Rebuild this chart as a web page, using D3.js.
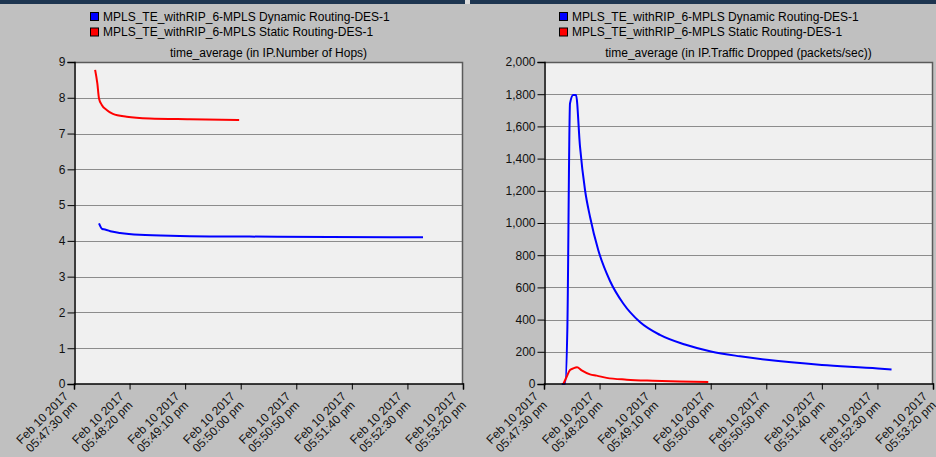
<!DOCTYPE html>
<html>
<head>
<meta charset="utf-8">
<script src="https://cdn.jsdelivr.net/npm/d3@7/dist/d3.min.js"></script>
<style>
  html, body { margin: 0; padding: 0; background: #c0c0c0; }
  svg { display: block; font-family: "Liberation Sans", Arial, sans-serif; }
</style>
</head>
<body>
<svg id="chart" width="936" height="457"></svg>
<script>
// ---- data (time = seconds after Feb 10 2017 05:47:30 pm) ----
const seriesNames = ["MPLS_TE_withRIP_6-MPLS Dynamic Routing-DES-1", "MPLS_TE_withRIP_6-MPLS Static Routing-DES-1"];
const seriesColors = ["#0000ff", "#ff0000"];

const hopsDynamic = [[22.5,4.49],[25.5,4.33],[27.9,4.32],[33.9,4.26],[41.4,4.22],[59,4.17],[95,4.14],[158,4.12],[230,4.11],[314,4.10]];
const hopsStatic = [[19,8.78],[21,8.40],[22.5,7.98],[25,7.80],[29.4,7.66],[35,7.55],[47.4,7.47],[68,7.42],[104,7.40],[148.6,7.38]];

const dropDynamic = [[16,0],[19,0],[21,340],[23.4,1743],[26.3,1795],[28.8,1795],[32.4,1474],[36.9,1205],[41.4,1039],[48.8,832],[59.4,640],[71.3,500],[86.3,385],[104.3,305],[126.8,245],[150.2,202],[176.3,172],[200.5,150],[250,118],[300.4,97],[312.7,90]];
const dropStatic = [[17.4,0],[20.4,45],[23.4,87],[26.3,97],[29.7,104],[33.9,85],[41.4,60],[47.4,52],[56.4,38],[74.4,27],[98,20],[122,15],[147.8,12]];

const xTickSeconds = [0,50,100,150,200,250,300,350];
const hopsTicks = [0,1,2,3,4,5,6,7,8,9];
const dropTicks = [0,200,400,600,800,1000,1200,1400,1600,1800,2000];

const titles = ["time_average (in IP.Number of Hops)", "time_average (in IP.Traffic Dropped (packets/sec))"];

const baseTime = new Date(2017, 1, 10, 17, 47, 30);
const toDate = s => new Date(baseTime.getTime() + s * 1000);

const svg = d3.select("#chart");

// top strip
svg.append("rect").attr("x",0).attr("y",0).attr("width",936).attr("height",4).attr("fill","#1d3550");
svg.append("rect").attr("x",465).attr("y",0).attr("width",5).attr("height",4).attr("fill","#dcdcdc");

const fmtDate = d3.timeFormat("%b %d %Y");
const fmtTime = d => d3.timeFormat("%I:%M:%S %p")(d).toLowerCase();

function panel(cfg) {
  const {left, right, top, bottom, yDomain, yTicks, yFormat, series, title, legendX} = cfg;
  const g = svg.append("g");
  const x = d3.scaleTime().domain([toDate(0), toDate(350)]).range([left, right]);
  const y = d3.scaleLinear().domain(yDomain).range([bottom, top]);

  // legend
  seriesNames.forEach((name, i) => {
    const ly = 12 + i * 15.5;
    g.append("rect").attr("x", legendX + 0.5).attr("y", ly + 0.5).attr("width", 8).attr("height", 8)
      .attr("fill", seriesColors[i]).attr("stroke", "#000").attr("stroke-width", 1);
    g.append("text").attr("x", legendX + 13).attr("y", ly + 8.5).attr("font-size", 12).attr("fill", "#000").text(name);
  });

  // title
  g.append("text").attr("x", (left + right) / 2).attr("y", 57).attr("text-anchor", "middle")
    .attr("font-size", 12).attr("fill", "#000").text(title);

  // plot background
  g.append("rect").attr("x", left).attr("y", top).attr("width", right - left).attr("height", bottom - top)
    .attr("fill", "#f0f0f0");

  // grid
  g.append("g").selectAll("line").data(yTicks.filter(t => t !== yDomain[0] && t !== yDomain[1])).join("line")
    .attr("x1", left).attr("x2", right).attr("y1", d => Math.round(y(d)) + 0.5).attr("y2", d => Math.round(y(d)) + 0.5)
    .attr("stroke", "#8c8c8c").attr("stroke-width", 1);

  // frame top/right
  g.append("path").attr("d", `M${left},${top + 0.5}H${right - 0.5}V${bottom}`)
    .attr("fill", "none").attr("stroke", "#5a5a5a").attr("stroke-width", 1.5);

  // lines
  const line = d3.line().x(d => x(toDate(d[0]))).y(d => y(d[1])).curve(d3.curveMonotoneX);
  series.forEach((s, i) => {
    g.append("path").datum(s).attr("d", line).attr("fill", "none")
      .attr("stroke", seriesColors[i]).attr("stroke-width", 2).attr("stroke-linejoin", "round");
  });

  // y axis
  const yAxis = d3.axisLeft(y).tickValues(yTicks).tickSize(7).tickPadding(2).tickFormat(yFormat);
  const ya = g.append("g").attr("transform", `translate(${left + 0.5},0)`).call(yAxis);
  ya.select(".domain").attr("stroke", "#000").attr("stroke-width", 1.5);
  ya.selectAll(".tick line").attr("stroke", "#000");
  ya.selectAll(".tick text").attr("font-size", 12).attr("fill", "#111").attr("font-family", "Liberation Sans, Arial, sans-serif");

  // x axis
  const xAxis = d3.axisBottom(x).tickValues(xTickSeconds.map(toDate)).tickSize(6).tickFormat("");
  const xa = g.append("g").attr("transform", `translate(0,${bottom - 0.5})`).call(xAxis);
  xa.select(".domain").attr("stroke", "#000").attr("stroke-width", 1.5);
  xa.selectAll(".tick line").attr("stroke", "#000");

  const lab = g.append("g").selectAll("g").data(xTickSeconds.map(toDate)).join("g")
    .attr("transform", d => `translate(${x(d) - 5},${bottom + 13}) rotate(-45)`);
  lab.append("text").attr("text-anchor", "end").attr("font-size", 12).attr("fill", "#111").text(d => fmtDate(d));
  lab.append("text").attr("text-anchor", "end").attr("y", 12.5).attr("font-size", 12).attr("fill", "#111").text(d => fmtTime(d));
}

panel({left: 74, right: 463, top: 62, bottom: 384, yDomain: [0, 9], yTicks: hopsTicks, yFormat: d3.format("d"),
  series: [hopsDynamic, hopsStatic], title: titles[0], legendX: 90});
panel({left: 544, right: 933, top: 62, bottom: 384, yDomain: [0, 2000], yTicks: dropTicks, yFormat: d3.format(","),
  series: [dropDynamic, dropStatic], title: titles[1], legendX: 559});
</script>
</body>
</html>
